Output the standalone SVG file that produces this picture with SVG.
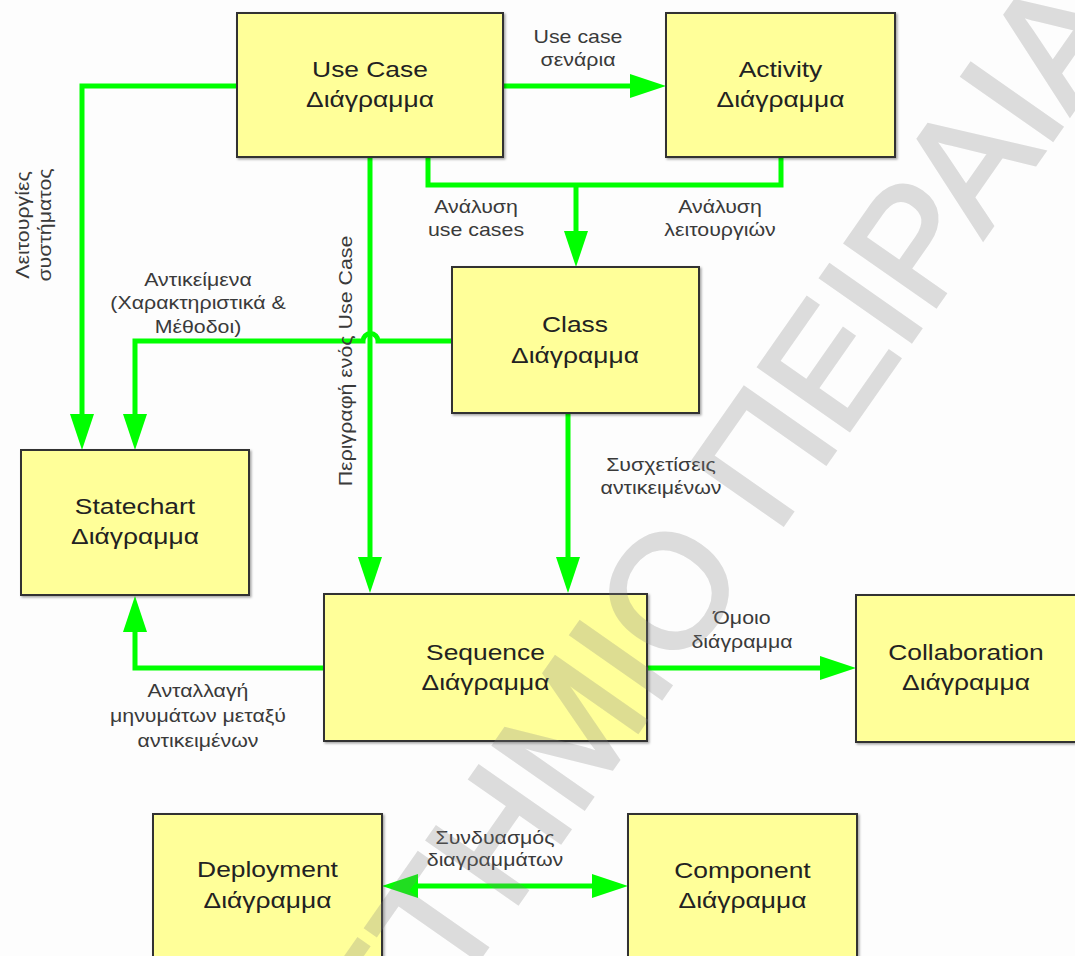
<svg xmlns="http://www.w3.org/2000/svg" width="1075" height="956" viewBox="0 0 1075 956">
  <defs>
    <style>
      .box { fill: #FFFF99; stroke: #333333; stroke-width: 2; filter: url(#shadow); }
      .nl { font-family: "Liberation Sans", Arial, sans-serif; font-size: 22px; fill: #222222; text-anchor: middle; }
      .el { font-family: "Liberation Sans", Arial, sans-serif; font-size: 17.5px; fill: #3a3a3a; text-anchor: middle; }
      .wire { fill: none; stroke: #00FF00; stroke-width: 5; stroke-linejoin: miter; stroke-linecap: butt; }
      .arrow { marker-end: url(#head); }
      .wm { font-family: "Liberation Sans", Arial, sans-serif; font-size: 160px; fill: #808080; stroke: #808080; stroke-width: 4; stroke-linejoin: miter; }
    </style>
    <filter id="shadow" x="-5%" y="-5%" width="115%" height="115%">
      <feDropShadow dx="1.5" dy="1.5" stdDeviation="0.8" flood-color="#000000" flood-opacity="0.35"/>
    </filter>
    <marker id="head" viewBox="0 0 36 24" markerUnits="userSpaceOnUse" markerWidth="36" markerHeight="24" refX="4" refY="12" orient="auto-start-reverse">
      <path d="M0,0 L36,12 L0,24 Z" fill="#00FF00"/>
    </marker>
  </defs>

  <rect x="0" y="0" width="1075" height="956" fill="#FDFDFD"/>

  <!-- connectors -->
  <g id="connectors">
    <!-- Use Case -> Activity -->
    <path class="wire arrow" d="M503,86 H634"/>
    <!-- Use Case -> Statechart -->
    <path class="wire arrow" d="M237,86 H82 V418"/>
    <!-- Class -> Statechart, hopping over the vertical line -->
    <path class="wire arrow" d="M452,341 H378 A7.5,7.5 0 0 0 363,341 H135 V418"/>
    <!-- Use Case -> Sequence -->
    <path class="wire arrow" d="M370,157 V561"/>
    <!-- Use Case + Activity -> Class -->
    <path class="wire" d="M428,157 V185 H781 V157"/>
    <path class="wire arrow" d="M576,185 V235"/>
    <!-- Class -> Sequence -->
    <path class="wire arrow" d="M568,413 V561"/>
    <!-- Sequence -> Statechart -->
    <path class="wire arrow" d="M324,668 H135 V628"/>
    <!-- Sequence -> Collaboration -->
    <path class="wire arrow" d="M647,668 H824"/>
    <!-- Deployment <-> Component -->
    <path class="wire" d="M414,886 H596" marker-start="url(#head)" marker-end="url(#head)"/>
  </g>

  <!-- connector labels -->
  <g id="edge-labels">
    <text class="el" transform="translate(578,43) scale(1.22,1)"><tspan x="0" y="0">Use case</tspan><tspan x="0" dy="23">σενάρια</tspan></text>
    <text class="el" transform="translate(476,213) scale(1.22,1)"><tspan x="0" y="0">Ανάλυση</tspan><tspan x="0" dy="23">use cases</tspan></text>
    <text class="el" transform="translate(720,213) scale(1.22,1)"><tspan x="0" y="0">Ανάλυση</tspan><tspan x="0" dy="23">λειτουργιών</tspan></text>
    <text class="el" transform="translate(29,225) rotate(-90) scale(1.22,1)"><tspan x="0" y="0">Λειτουργίες</tspan><tspan x="0" dy="22.5">συστήματος</tspan></text>
    <text class="el" transform="translate(198,286) scale(1.22,1)"><tspan x="0" y="0">Αντικείμενα</tspan><tspan x="0" dy="23.5">(Χαρακτηριστικά &amp;</tspan><tspan x="0" dy="23.5">Μέθοδοι)</tspan></text>
    <text class="el" transform="translate(352,361) rotate(-90) scale(1.22,1)">Περιγραφή ενός Use Case</text>
    <text class="el" transform="translate(661,471) scale(1.22,1)"><tspan x="0" y="0">Συσχετίσεις</tspan><tspan x="0" dy="23">αντικειμένων</tspan></text>
    <text class="el" transform="translate(742,624) scale(1.22,1)"><tspan x="0" y="0">Όμοιο</tspan><tspan x="0" dy="24.5">διάγραμμα</tspan></text>
    <text class="el" transform="translate(198,697) scale(1.22,1)"><tspan x="0" y="0">Ανταλλαγή</tspan><tspan x="0" dy="25">μηνυμάτων μεταξύ</tspan><tspan x="0" dy="25">αντικειμένων</tspan></text>
    <text class="el" transform="translate(495,844) scale(1.22,1)"><tspan x="0" y="0">Συνδυασμός</tspan><tspan x="0" dy="22">διαγραμμάτων</tspan></text>
  </g>

  <!-- nodes -->
  <g id="use-case">
    <rect class="box" x="237" y="13" width="266" height="144"/>
    <text class="nl" transform="translate(370,77) scale(1.2,1)"><tspan x="0" y="0">Use Case</tspan><tspan x="0" dy="30.5">Διάγραμμα</tspan></text>
  </g>
  <g id="activity">
    <rect class="box" x="666" y="13" width="229" height="144"/>
    <text class="nl" transform="translate(780.5,77) scale(1.2,1)"><tspan x="0" y="0">Activity</tspan><tspan x="0" dy="30.5">Διάγραμμα</tspan></text>
  </g>
  <g id="class">
    <rect class="box" x="452" y="267" width="247" height="146"/>
    <text class="nl" transform="translate(575,332) scale(1.2,1)"><tspan x="0" y="0">Class</tspan><tspan x="0" dy="31">Διάγραμμα</tspan></text>
  </g>
  <g id="statechart">
    <rect class="box" x="21" y="450" width="228" height="145"/>
    <text class="nl" transform="translate(135,513.5) scale(1.2,1)"><tspan x="0" y="0">Statechart</tspan><tspan x="0" dy="31">Διάγραμμα</tspan></text>
  </g>
  <g id="sequence">
    <rect class="box" x="324" y="594" width="323" height="147"/>
    <text class="nl" transform="translate(485.5,660) scale(1.2,1)"><tspan x="0" y="0">Sequence</tspan><tspan x="0" dy="30.5">Διάγραμμα</tspan></text>
  </g>
  <g id="collaboration">
    <rect class="box" x="856" y="595" width="224" height="147"/>
    <text class="nl" transform="translate(966,660) scale(1.2,1)"><tspan x="0" y="0">Collaboration</tspan><tspan x="0" dy="30.5">Διάγραμμα</tspan></text>
  </g>
  <g id="deployment">
    <rect class="box" x="153" y="814" width="229" height="160"/>
    <text class="nl" transform="translate(267.5,877) scale(1.2,1)"><tspan x="0" y="0">Deployment</tspan><tspan x="0" dy="31">Διάγραμμα</tspan></text>
  </g>
  <g id="component">
    <rect class="box" x="628" y="814" width="229" height="160"/>
    <text class="nl" transform="translate(742.5,878) scale(1.2,1)"><tspan x="0" y="0">Component</tspan><tspan x="0" dy="30.5">Διάγραμμα</tspan></text>
  </g>

  <!-- translucent diagonal watermark over the whole drawing -->
  <g id="watermark" opacity="0.26">
    <text class="wm" transform="translate(51,1570) rotate(-55)">ΠΑΝΕΠΙΣΤΗΜΙΟ ΠΕΙΡΑΙΑ</text>
  </g>
</svg>
